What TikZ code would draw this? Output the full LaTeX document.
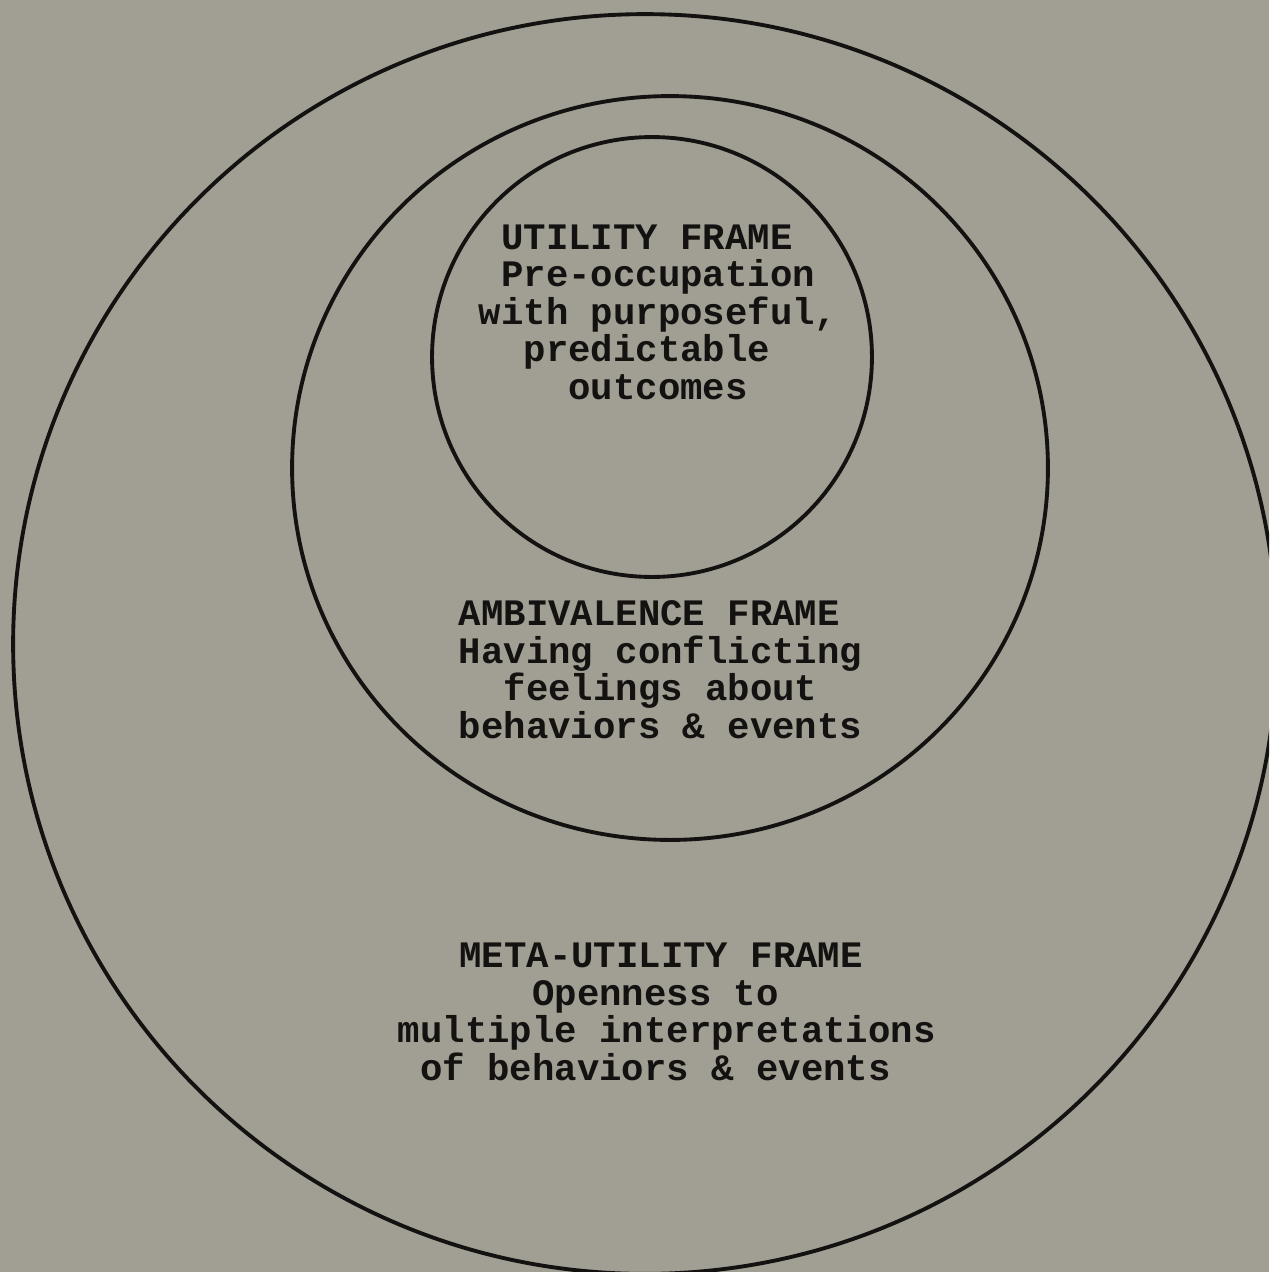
\documentclass[tikz,border=0pt]{standalone}
\usepackage{fontspec}
\newfontfamily\typewriter{Liberation Mono}
\definecolor{paper}{RGB}{161,158,148}
\definecolor{ink}{RGB}{20,18,16}

\begin{document}
\begin{tikzpicture}[x=0.02cm, y=-0.02cm, line width=2.2pt,
  every node/.style={font=\typewriter\bfseries\fontsize{21.25}{21.3}\selectfont,
    text=ink, inner sep=0pt, anchor=base west, align=left}]

  % 背景と枠
  \fill[paper] (0,0) rectangle (1269,1272);
  \useasboundingbox (0,0) rectangle (1269,1272);
  \clip (0,0) rectangle (1269,1272);

  % 円の中心
  \coordinate (Outer) at (645,644);
  \coordinate (Middle) at (670,468);
  \coordinate (Inner) at (652,357);

  % 三つの円
  \draw[ink] (Outer) ellipse [x radius=12.64cm, y radius=12.6cm];
  \draw[ink] (Middle) ellipse [x radius=7.56cm, y radius=7.44cm];
  \draw[ink] (Inner) circle [radius=4.4cm];

  % 内側の円のラベル (基準は最終行のベースライン)
  \node (utility) at (477,399) {%
    \hspace*{0.6em}UTILITY FRAME\\
    \hspace*{0.6em}Pre-occupation\\
    with purposeful,\\
    \hspace*{1.2em}predictable\\
    \hspace*{2.4em}outcomes};

  % 中間の円のラベル
  \node (ambivalence) at (457,738) {%
    AMBIVALENCE FRAME\\
    Having conflicting\\
    \hspace*{1.2em}feelings about\\
    behaviors \& events};

  % 外側の円のラベル
  \node (metautility) at (396,1080) {%
    \hspace*{1.65em}META-UTILITY FRAME\\
    \hspace*{3.6em}Openness to\\
    multiple interpretations\\
    \hspace*{0.6em}of behaviors \& events};

\end{tikzpicture}
\end{document}
